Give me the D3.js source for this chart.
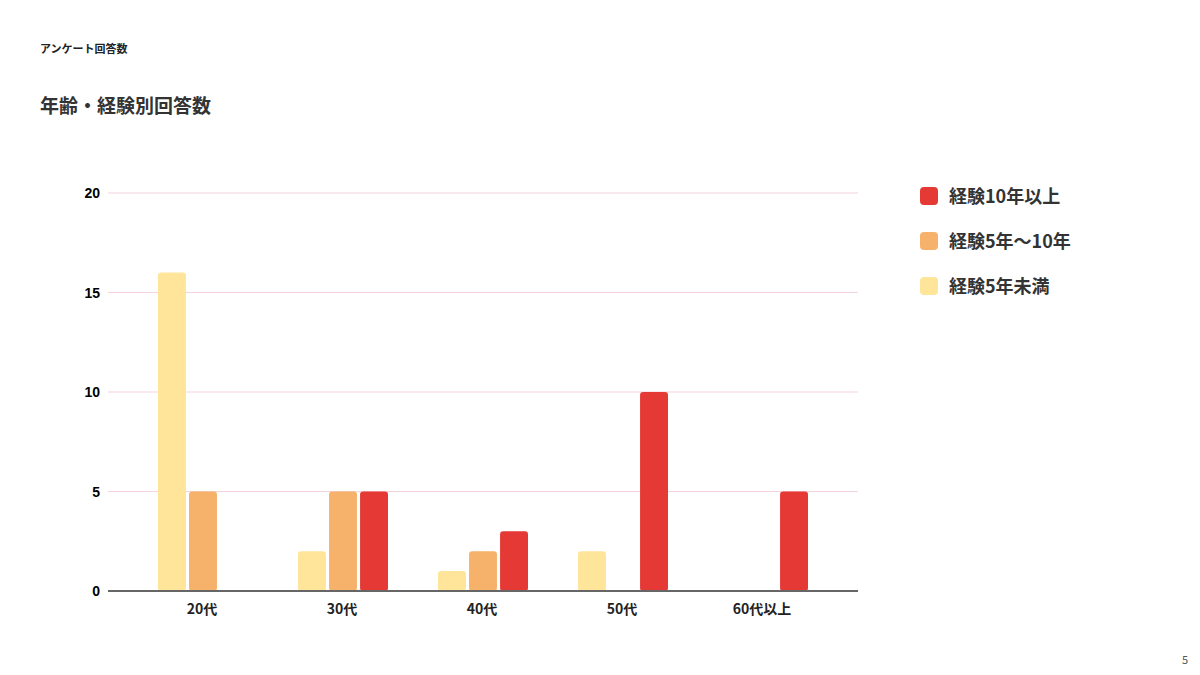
<!DOCTYPE html>
<html><head><meta charset="utf-8">
<script src="https://cdn.jsdelivr.net/npm/d3@7"></script>
<style>body{margin:0;background:#fff;font-family:"Noto Sans CJK JP","Noto Sans",sans-serif}</style>
</head><body><svg id="c" width="1200" height="675"></svg>
<script>
const categories = ['20代', '30代', '40代', '50代', '60代以上'];
const seriesNames = ['経験5年未満', '経験5年〜10年', '経験10年以上'];
const under5 = [16, 2, 1, 2, 0];
const from5to10 = [5, 5, 2, 0, 0];
const over10 = [0, 5, 3, 10, 5];
const yTicks = [0, 5, 10, 15, 20];
const colors = ['#fee599', '#f6b26b', '#e53935'];

const svg = d3.select('#c');
svg.append('text').attr('x', 40).attr('y', 53).attr('font-size', 11).attr('font-weight', 700).attr('fill', '#222').text('アンケート回答数');
svg.append('text').attr('x', 40).attr('y', 113).attr('font-size', 19).attr('font-weight', 700).attr('fill', '#333').text('年齢・経験別回答数');
svg.append('text').attr('x', 1188).attr('y', 664).attr('font-size', 11).attr('fill', '#555').attr('text-anchor', 'end').text('5');

const y = d3.scaleLinear().domain([0, 20]).range([591, 193]);
const x = d3.scaleBand().domain(categories).range([132, 832]);
const xs = d3.scaleBand().domain(seriesNames).range([x.bandwidth() / 2 - 44, x.bandwidth() / 2 + 46]).paddingInner(0.1);

const grid = svg.append('g');
grid.selectAll('line').data(yTicks.filter(d => d > 0)).join('line')
  .attr('x1', 108).attr('x2', 858).attr('y1', d => y(d)).attr('y2', d => y(d))
  .attr('stroke', '#f4d3da').attr('stroke-width', 1.2);
grid.selectAll('text').data(yTicks).join('text')
  .attr('x', 100).attr('y', d => y(d) + 5).attr('text-anchor', 'end')
  .attr('font-size', 14).attr('font-weight', 700).attr('font-family', 'Liberation Sans, Arial').text(d => d);

const series = [under5, from5to10, over10];
series.forEach((vals, si) => {
  svg.append('g').selectAll('rect').data(vals).join('rect')
    .attr('x', (d, i) => x(categories[i]) + xs(seriesNames[si]))
    .attr('width', xs.bandwidth())
    .attr('y', d => y(d)).attr('height', d => y(0) - y(d))
    .attr('rx', 3).attr('fill', colors[si]);
});
svg.append('line').attr('x1', 108).attr('x2', 858).attr('y1', y(0)).attr('y2', y(0)).attr('stroke', '#666').attr('stroke-width', 2);

svg.append('g').selectAll('text').data(categories).join('text')
  .attr('x', d => x(d) + x.bandwidth() / 2).attr('y', 614).attr('text-anchor', 'middle')
  .attr('font-size', 14).attr('font-weight', 700).attr('fill', '#222').text(d => d);

const legend = ['経験10年以上', '経験5年〜10年', '経験5年未満'];
const lcol = [colors[2], colors[1], colors[0]];
legend.forEach((t, i) => {
  const g = svg.append('g').attr('transform', `translate(920,${196 + i * 45})`);
  g.append('rect').attr('x', 0).attr('y', -9).attr('width', 18).attr('height', 18).attr('rx', 4).attr('fill', lcol[i]);
  g.append('text').attr('x', 29).attr('y', 7).attr('font-size', 18).attr('font-weight', 700).attr('fill', '#333').text(t);
});
</script></body></html>
